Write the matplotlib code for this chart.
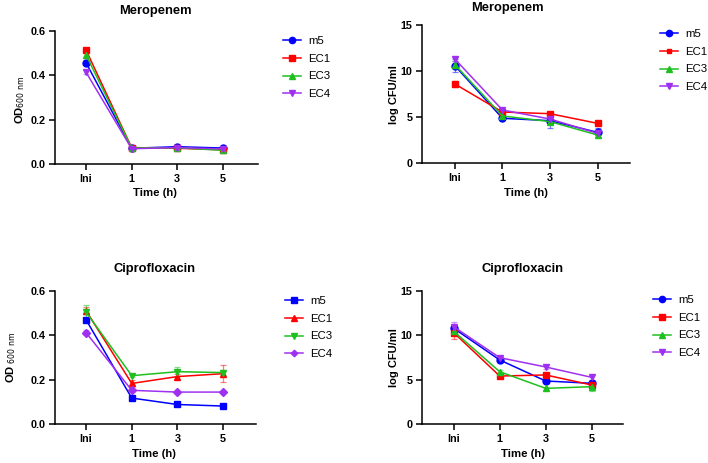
import matplotlib
matplotlib.use("Agg")
import matplotlib.pyplot as plt
from matplotlib.lines import Line2D
import numpy as np

plt.rcParams['font.family'] = ['Liberation Sans', 'DejaVu Sans']

times = ["Ini", "1", "3", "5"]
strains = ["m5", "EC1", "EC3", "EC4"]
colors = ["#0000ff", "#ff0000", "#1fbf1f", "#a030f0"]

# Meropenem OD600
mero_od = {
    "m5": [0.457, 0.071, 0.078, 0.072],
    "EC1": [0.514, 0.074, 0.071, 0.064],
    "EC3": [0.492, 0.072, 0.073, 0.062],
    "EC4": [0.414, 0.069, 0.074, 0.068],
}
mero_od_err = {
    "m5": [0.010, 0.004, 0.004, 0.004],
    "EC1": [0.008, 0.004, 0.003, 0.003],
    "EC3": [0.008, 0.003, 0.003, 0.003],
    "EC4": [0.010, 0.003, 0.003, 0.003],
}

# Meropenem log CFU/ml
mero_cfu = {
    "m5": [10.58, 4.86, 4.60, 3.33],
    "EC1": [8.59, 5.54, 5.36, 4.31],
    "EC3": [10.70, 5.11, 4.50, 3.04],
    "EC4": [11.30, 5.76, 4.78, 3.22],
}
mero_cfu_err = {
    "m5": [0.70, 0.20, 0.80, 0.50],
    "EC1": [0.30, 0.15, 0.15, 0.12],
    "EC3": [0.40, 0.15, 0.30, 0.25],
    "EC4": [0.25, 0.15, 0.20, 0.20],
}

# Ciprofloxacin OD600
cipro_od = {
    "m5": [0.470, 0.117, 0.088, 0.081],
    "EC1": [0.511, 0.183, 0.214, 0.227],
    "EC3": [0.505, 0.218, 0.236, 0.232],
    "EC4": [0.412, 0.152, 0.144, 0.144],
}
cipro_od_err = {
    "m5": [0.010, 0.006, 0.006, 0.006],
    "EC1": [0.015, 0.015, 0.012, 0.037],
    "EC3": [0.030, 0.008, 0.022, 0.010],
    "EC4": [0.012, 0.006, 0.005, 0.005],
}

# Ciprofloxacin log CFU/ml
cipro_cfu = {
    "m5": [10.79, 7.22, 4.85, 4.59],
    "EC1": [10.30, 5.41, 5.53, 4.40],
    "EC3": [10.45, 5.90, 4.02, 4.21],
    "EC4": [10.97, 7.48, 6.43, 5.26],
}
cipro_cfu_err = {
    "m5": [0.30, 0.20, 0.20, 0.30],
    "EC1": [0.70, 0.20, 0.20, 0.30],
    "EC3": [0.40, 0.20, 0.20, 0.50],
    "EC4": [0.56, 0.20, 0.20, 0.25],
}

W, H = 708, 463
fig = plt.figure(figsize=(W / 100, H / 100), dpi=100)


def px_rect(l, t, r, b):
    return [l / W, 1 - b / H, (r - l) / W, (b - t) / H]


def ftext(x, y, s, **kw):
    fig.text(x / W, 1 - y / H, s, ha='center', va='center', **kw)


def panel(rect, data, err, markers, sizes, ylim, yticks, yfmt, title, tpos,
          ylabel, ypos, xlpos, legpos, xlim):
    ax = fig.add_axes(px_rect(*rect))
    x = np.arange(len(times))
    handles = []
    for s, c, m, ms in zip(strains, colors, markers, sizes):
        ax.errorbar(x, data[s], yerr=err[s], color=c, marker=m, ms=ms,
                    lw=1.1, elinewidth=0.9, capsize=2.5, capthick=0.9,
                    ecolor=matplotlib.colors.to_rgba(c, 0.5))
        handles.append(Line2D([], [], color=c, marker=m, ms=ms - 0.5,
                              lw=1.1, label=s))
    ax.set_xlim(*xlim)
    ax.set_ylim(*ylim)
    ax.set_xticks(x)
    ax.set_xticklabels(times)
    ax.set_yticks(yticks)
    ax.set_yticklabels([yfmt.format(v) for v in yticks])
    for sp in ['top', 'right']:
        ax.spines[sp].set_visible(False)
    for sp in ['left', 'bottom']:
        ax.spines[sp].set_linewidth(1.1)
    ax.tick_params(width=1.1, length=4, labelsize=7.8, pad=3)
    for lab in ax.get_xticklabels() + ax.get_yticklabels():
        lab.set_fontweight('bold')
    ftext(*tpos, title, fontsize=9.3, fontweight='bold')
    ftext(*ypos, ylabel, fontsize=8, fontweight='bold', rotation=90)
    ftext(*xlpos, "Time (h)", fontsize=8.2, fontweight='bold')
    fig.legend(handles=handles, loc='upper left',
               bbox_to_anchor=(legpos[0] / W, 1 - legpos[1] / H),
               frameon=False, fontsize=8.2, handlelength=1.6,
               handletextpad=0.6, labelspacing=0.68, borderpad=0,
               borderaxespad=0)
    return ax


panel((55, 31, 258, 164), mero_od, mero_od_err, ['o', 's', '^', 'v'],
      [5, 5, 5, 5], (0, 0.6), [0.0, 0.2, 0.4, 0.6], "{:.1f}", "Meropenem",
      (155, 11), r"OD$_{600\ \mathrm{nm}}$", (20, 100), (155, 193),
      (283, 36), (-0.68, 3.77))

panel((422, 25, 630, 163), mero_cfu, mero_cfu_err, ['o', 's', '^', 'v'],
      [5, 4, 5, 5], (0, 15), [0, 5, 10, 15], "{:d}", "Meropenem", (507, 8),
      "log CFU/ml", (394, 95), (526, 193), (660, 29),
      (-0.69, 3.68))

panel((55, 291, 256, 424), cipro_od, cipro_od_err, ['s', '^', 'v', 'D'],
      [5, 5, 5, 3.8], (0, 0.6), [0.0, 0.2, 0.4, 0.6], "{:.1f}",
      "Ciprofloxacin", (154, 269), r"OD $_{600\ \mathrm{nm}}$", (11, 357),
      (154, 454), (285, 296), (-0.68, 3.72))

panel((422, 291, 623, 424), cipro_cfu, cipro_cfu_err, ['o', 's', '^', 'v'],
      [5, 5, 5, 5], (0, 15), [0, 5, 10, 15], "{:d}", "Ciprofloxacin",
      (523, 269), "log CFU/ml", (394, 358), (523, 454), (653, 295),
      (-0.69, 3.68))

fig.savefig("out.png", dpi=100)
